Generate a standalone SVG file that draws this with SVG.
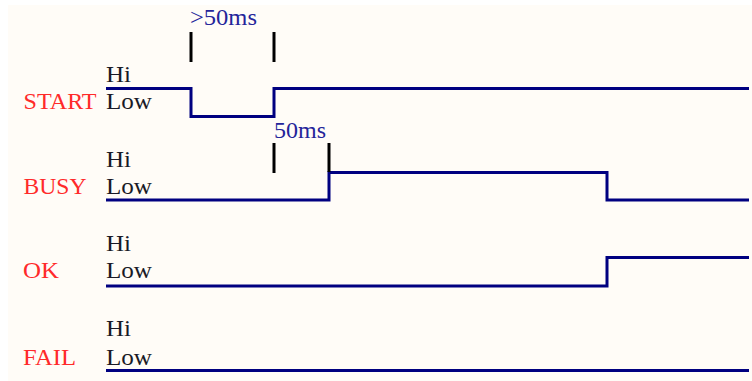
<svg xmlns="http://www.w3.org/2000/svg" width="752" height="381" viewBox="0 0 752 381">
<style>
.sig{font-family:"Liberation Serif","Times New Roman",serif;font-size:23px;fill:#ff2a2a}
.lvl{font-family:"Liberation Serif","Times New Roman",serif;font-size:24px;fill:#1a1a26}
.ms{font-family:"Liberation Serif","Times New Roman",serif;font-size:24px;fill:#24249a}
.wave{fill:none;stroke:#000080;stroke-width:3;stroke-linejoin:miter;stroke-linecap:butt}
.tick{stroke:#000;stroke-width:3}
</style>
<rect x="0" y="0" width="752" height="381" fill="#ffffff"/>
<rect x="8" y="5" width="744" height="376" fill="#fffcf7"/>
<g id="start">
<text class="sig" x="23.5" y="109" textLength="73" lengthAdjust="spacingAndGlyphs">START</text>
<text class="lvl" x="106" y="82" textLength="25" lengthAdjust="spacingAndGlyphs">Hi</text>
<text class="lvl" x="106" y="109" textLength="46" lengthAdjust="spacingAndGlyphs">Low</text>
<path class="wave" d="M106,88.5 H191 V116.5 H274 V88.5 H749"/>
</g>
<g id="busy">
<text class="sig" x="23.5" y="194" textLength="63" lengthAdjust="spacingAndGlyphs">BUSY</text>
<text class="lvl" x="106" y="167" textLength="25" lengthAdjust="spacingAndGlyphs">Hi</text>
<text class="lvl" x="106" y="194" textLength="46" lengthAdjust="spacingAndGlyphs">Low</text>
<path class="wave" d="M106,200 H329 V172.5 H607 V200 H749"/>
</g>
<g id="ok">
<text class="sig" x="23" y="278" textLength="36" lengthAdjust="spacingAndGlyphs">OK</text>
<text class="lvl" x="106" y="251" textLength="25" lengthAdjust="spacingAndGlyphs">Hi</text>
<text class="lvl" x="106" y="278" textLength="46" lengthAdjust="spacingAndGlyphs">Low</text>
<path class="wave" d="M106,286 H607 V257.5 H749"/>
</g>
<g id="fail">
<text class="sig" x="23" y="365" textLength="53" lengthAdjust="spacingAndGlyphs">FAIL</text>
<text class="lvl" x="106" y="336" textLength="25" lengthAdjust="spacingAndGlyphs">Hi</text>
<text class="lvl" x="106" y="365" textLength="46" lengthAdjust="spacingAndGlyphs">Low</text>
<path class="wave" d="M106,370.5 H749"/>
</g>
<g id="connectors">
<line class="tick" x1="191" y1="32" x2="191" y2="62"/>
<line class="tick" x1="274" y1="32" x2="274" y2="62"/>
<text class="ms" x="190" y="25" textLength="67" lengthAdjust="spacingAndGlyphs">&gt;50ms</text>
<line class="tick" x1="274" y1="143" x2="274" y2="173"/>
<line class="tick" x1="329" y1="143" x2="329" y2="172"/>
<text class="ms" x="274" y="138" textLength="52" lengthAdjust="spacingAndGlyphs">50ms</text>
</g>
</svg>
